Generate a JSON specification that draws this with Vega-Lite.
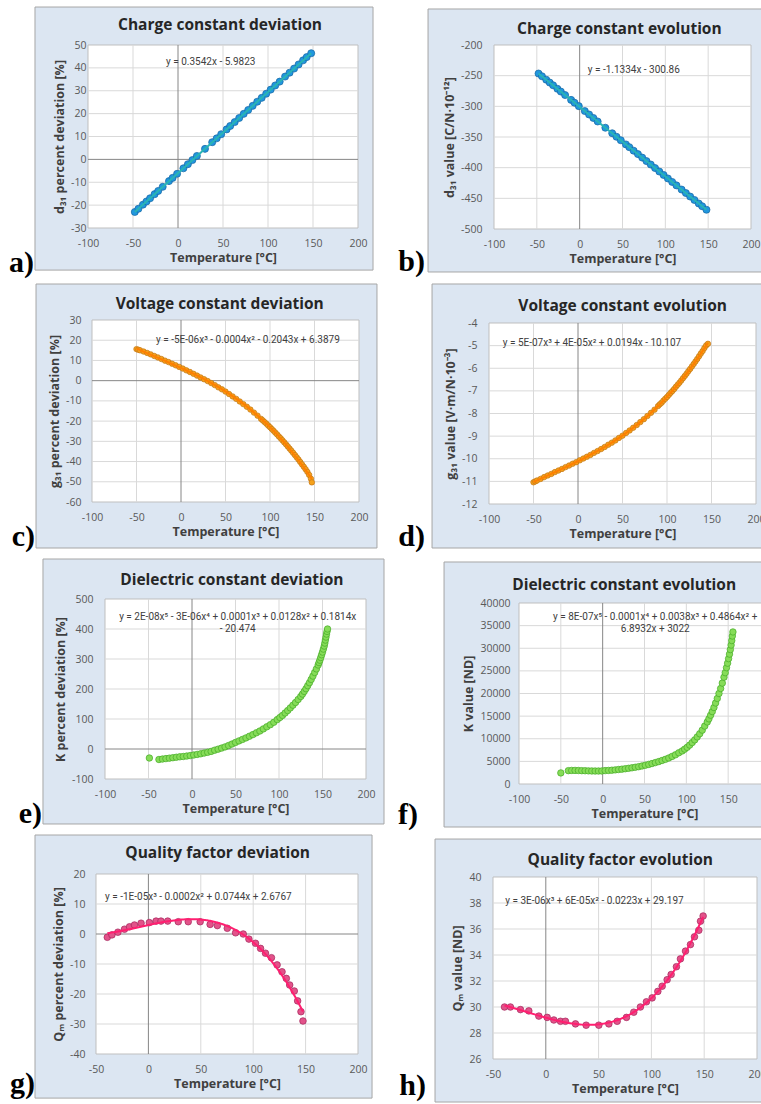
{
"$schema":"https://vega.github.io/schema/vega-lite/v6.json",
"background":"white",
"padding":{"left":3,"top":6,"right":0,"bottom":0},
"config":{
 "locale":{"number":{"decimal":".","thousands":",","grouping":[3],"currency":["$",""],"minus":"-"}},
 "view":{"stroke":null},
 "axis":{"domain":false,"ticks":false,"grid":false,"labelFont":"Open Sans","labelFontSize":10.5,"labelColor":"#595959","titleFont":"Open Sans","titleFontSize":12.5,"titleFontWeight":"bold","titleColor":"#404040","labelFlush":false,"labelOverlap":false,"format":"d"},
 "axisX":{"labelPadding":10,"titlePadding":3},
 "axisY":{"labelPadding":11,"titlePadding":4}
},
"datasets":{
 "one":[{"k":1}],
 "a":[{"t":-48,"v":-23.0},{"t":-44,"v":-21.6},{"t":-39,"v":-19.8},{"t":-35,"v":-18.4},{"t":-31,"v":-17.0},{"t":-26,"v":-15.2},{"t":-22,"v":-13.8},{"t":-17,"v":-12.0},{"t":-10,"v":-9.5},{"t":-6,"v":-8.1},{"t":-1,"v":-6.3},{"t":6,"v":-3.9},{"t":11,"v":-2.1},{"t":16,"v":-0.3},{"t":21,"v":1.5},{"t":30,"v":4.6},{"t":38,"v":7.5},{"t":43,"v":9.2},{"t":48,"v":11.0},{"t":54,"v":13.1},{"t":58,"v":14.6},{"t":63,"v":16.3},{"t":68,"v":18.1},{"t":73,"v":19.9},{"t":78,"v":21.6},{"t":83,"v":23.4},{"t":88,"v":25.2},{"t":93,"v":26.9},{"t":98,"v":28.7},{"t":103,"v":30.5},{"t":108,"v":32.3},{"t":113,"v":34.0},{"t":119,"v":36.2},{"t":124,"v":37.9},{"t":129,"v":39.7},{"t":134,"v":41.5},{"t":139,"v":43.3},{"t":143,"v":44.7},{"t":148,"v":46.4}],
 "b":[{"t":-48,"v":-246.5},{"t":-44,"v":-251.0},{"t":-39,"v":-256.6},{"t":-35,"v":-261.2},{"t":-31,"v":-265.7},{"t":-26,"v":-271.4},{"t":-22,"v":-275.9},{"t":-17,"v":-281.6},{"t":-10,"v":-289.5},{"t":-6,"v":-294.1},{"t":-1,"v":-299.7},{"t":6,"v":-307.7},{"t":11,"v":-313.3},{"t":16,"v":-319.0},{"t":21,"v":-324.7},{"t":30,"v":-334.9},{"t":38,"v":-343.9},{"t":43,"v":-349.6},{"t":48,"v":-355.3},{"t":54,"v":-362.1},{"t":58,"v":-366.6},{"t":63,"v":-372.3},{"t":68,"v":-377.9},{"t":73,"v":-383.6},{"t":78,"v":-389.3},{"t":83,"v":-394.9},{"t":88,"v":-400.6},{"t":93,"v":-406.3},{"t":98,"v":-411.9},{"t":103,"v":-417.6},{"t":108,"v":-423.3},{"t":113,"v":-428.9},{"t":119,"v":-435.7},{"t":124,"v":-441.4},{"t":129,"v":-447.1},{"t":134,"v":-452.7},{"t":139,"v":-458.4},{"t":143,"v":-462.9},{"t":148,"v":-468.6}],
 "c":[{"t":-50,"v":15.6},{"t":-48,"v":15.3},{"t":-46,"v":15.0},{"t":-42,"v":14.4},{"t":-38,"v":13.7},{"t":-34,"v":13.0},{"t":-30,"v":12.2},{"t":-26,"v":11.5},{"t":-22,"v":10.7},{"t":-18,"v":9.9},{"t":-14,"v":9.2},{"t":-10,"v":8.4},{"t":-6,"v":7.6},{"t":-2,"v":6.8},{"t":2,"v":6.0},{"t":6,"v":5.1},{"t":10,"v":4.3},{"t":14,"v":3.4},{"t":18,"v":2.5},{"t":22,"v":1.6},{"t":26,"v":0.7},{"t":30,"v":-0.2},{"t":34,"v":-1.2},{"t":38,"v":-2.2},{"t":42,"v":-3.3},{"t":46,"v":-4.3},{"t":50,"v":-5.4},{"t":54,"v":-6.6},{"t":58,"v":-7.8},{"t":62,"v":-9.0},{"t":66,"v":-10.3},{"t":70,"v":-11.6},{"t":74,"v":-12.9},{"t":78,"v":-14.3},{"t":82,"v":-15.8},{"t":86,"v":-17.3},{"t":90,"v":-18.9},{"t":92,"v":-19.7},{"t":94,"v":-20.5},{"t":96,"v":-21.3},{"t":98,"v":-22.2},{"t":100,"v":-23.0},{"t":102,"v":-23.9},{"t":104,"v":-24.8},{"t":106,"v":-25.7},{"t":108,"v":-26.6},{"t":110,"v":-27.6},{"t":112,"v":-28.5},{"t":114,"v":-29.5},{"t":116,"v":-30.5},{"t":118,"v":-31.5},{"t":120,"v":-32.5},{"t":122,"v":-33.6},{"t":124,"v":-34.6},{"t":126,"v":-35.7},{"t":128,"v":-36.8},{"t":130,"v":-37.9},{"t":132,"v":-39.0},{"t":134,"v":-40.2},{"t":136,"v":-41.4},{"t":138,"v":-42.6},{"t":140,"v":-43.8},{"t":142,"v":-45.1},{"t":144,"v":-46.6},{"t":146,"v":-48.5},{"t":147,"v":-50.3}],
 "d":[{"t":-50,"v":-11.04},{"t":-48,"v":-11.0},{"t":-46,"v":-10.96},{"t":-42,"v":-10.89},{"t":-38,"v":-10.81},{"t":-34,"v":-10.74},{"t":-30,"v":-10.67},{"t":-26,"v":-10.59},{"t":-22,"v":-10.52},{"t":-18,"v":-10.45},{"t":-14,"v":-10.37},{"t":-10,"v":-10.30},{"t":-6,"v":-10.22},{"t":-2,"v":-10.15},{"t":2,"v":-10.07},{"t":6,"v":-9.99},{"t":10,"v":-9.91},{"t":14,"v":-9.83},{"t":18,"v":-9.74},{"t":22,"v":-9.66},{"t":26,"v":-9.57},{"t":30,"v":-9.48},{"t":34,"v":-9.38},{"t":38,"v":-9.29},{"t":42,"v":-9.19},{"t":46,"v":-9.08},{"t":50,"v":-8.98},{"t":54,"v":-8.86},{"t":58,"v":-8.75},{"t":62,"v":-8.63},{"t":66,"v":-8.51},{"t":70,"v":-8.38},{"t":74,"v":-8.25},{"t":78,"v":-8.11},{"t":82,"v":-7.97},{"t":86,"v":-7.83},{"t":90,"v":-7.67},{"t":92,"v":-7.59},{"t":94,"v":-7.52},{"t":96,"v":-7.43},{"t":98,"v":-7.35},{"t":100,"v":-7.27},{"t":102,"v":-7.18},{"t":104,"v":-7.09},{"t":106,"v":-7.01},{"t":108,"v":-6.92},{"t":110,"v":-6.82},{"t":112,"v":-6.73},{"t":114,"v":-6.64},{"t":116,"v":-6.54},{"t":118,"v":-6.44},{"t":120,"v":-6.34},{"t":122,"v":-6.24},{"t":124,"v":-6.13},{"t":126,"v":-6.03},{"t":128,"v":-5.92},{"t":130,"v":-5.81},{"t":132,"v":-5.70},{"t":134,"v":-5.59},{"t":136,"v":-5.47},{"t":138,"v":-5.35},{"t":140,"v":-5.24},{"t":142,"v":-5.11},{"t":144,"v":-4.99},{"t":146,"v":-4.92}],
 "e":[{"t":-49,"v":-30},{"t":-38,"v":-35},{"t":-34,"v":-33.5},{"t":-30,"v":-32},{"t":-26,"v":-30.5},{"t":-22,"v":-29},{"t":-18,"v":-27.5},{"t":-14,"v":-26},{"t":-10,"v":-25},{"t":-6,"v":-23.5},{"t":-2,"v":-22},{"t":2,"v":-20},{"t":6,"v":-18},{"t":10,"v":-16},{"t":14,"v":-13.5},{"t":18,"v":-11},{"t":22,"v":-8},{"t":26,"v":-4},{"t":30,"v":-0.5},{"t":34,"v":3},{"t":38,"v":7},{"t":42,"v":11.5},{"t":46,"v":16.5},{"t":50,"v":22},{"t":54,"v":27},{"t":58,"v":32},{"t":62,"v":37},{"t":66,"v":42.5},{"t":70,"v":48},{"t":74,"v":54},{"t":78,"v":60},{"t":82,"v":67},{"t":86,"v":74},{"t":90,"v":81},{"t":94,"v":89},{"t":98,"v":98},{"t":101,"v":105},{"t":104,"v":112},{"t":107,"v":120},{"t":110,"v":128},{"t":113,"v":137},{"t":116,"v":146},{"t":119,"v":155},{"t":122,"v":165},{"t":125,"v":175},{"t":127,"v":183},{"t":129,"v":192},{"t":131,"v":201},{"t":133,"v":211},{"t":135,"v":221},{"t":137,"v":232},{"t":139,"v":243},{"t":141,"v":255},{"t":143,"v":267},{"t":145,"v":280},{"t":146,"v":288},{"t":147,"v":296},{"t":148,"v":305},{"t":149,"v":314},{"t":150,"v":323},{"t":151,"v":333},{"t":152,"v":343},{"t":152.7,"v":353},{"t":153.3,"v":363},{"t":154,"v":373},{"t":154.6,"v":383},{"t":155.2,"v":392},{"t":155.8,"v":400}],
 "f":[{"t":-50,"v":2450},{"t":-41,"v":2950},{"t":-37,"v":3000},{"t":-33,"v":3000},{"t":-29,"v":2980},{"t":-25,"v":2950},{"t":-21,"v":2930},{"t":-17,"v":2900},{"t":-13,"v":2880},{"t":-9,"v":2870},{"t":-5,"v":2870},{"t":-1,"v":2880},{"t":3,"v":2960},{"t":7,"v":3000},{"t":11,"v":3050},{"t":15,"v":3120},{"t":19,"v":3200},{"t":23,"v":3280},{"t":27,"v":3370},{"t":31,"v":3470},{"t":35,"v":3580},{"t":39,"v":3700},{"t":43,"v":3830},{"t":47,"v":3980},{"t":51,"v":4150},{"t":55,"v":4330},{"t":59,"v":4520},{"t":63,"v":4730},{"t":67,"v":4950},{"t":71,"v":5200},{"t":75,"v":5450},{"t":79,"v":5750},{"t":83,"v":6100},{"t":87,"v":6450},{"t":91,"v":6900},{"t":95,"v":7300},{"t":98,"v":7700},{"t":101,"v":8100},{"t":104,"v":8600},{"t":107,"v":9150},{"t":110,"v":9750},{"t":113,"v":10400},{"t":116,"v":11100},{"t":119,"v":11900},{"t":122,"v":12800},{"t":125,"v":13700},{"t":127,"v":14400},{"t":129,"v":15200},{"t":131,"v":16000},{"t":133,"v":16900},{"t":135,"v":17900},{"t":137,"v":18900},{"t":139,"v":20000},{"t":141,"v":21100},{"t":143,"v":22300},{"t":145,"v":23600},{"t":146.5,"v":24600},{"t":148,"v":25700},{"t":149.3,"v":26700},{"t":150.5,"v":27700},{"t":151.6,"v":28700},{"t":152.6,"v":29700},{"t":153.5,"v":30700},{"t":154.3,"v":31700},{"t":155,"v":32700},{"t":155.7,"v":33600}],
 "g":[{"t":-39.2,"v":-1.1},{"t":-34.8,"v":-0.3},{"t":-29.1,"v":0.6},{"t":-22.8,"v":1.6},{"t":-18,"v":2.4},{"t":-13.3,"v":3.0},{"t":-7,"v":3.6},{"t":0.9,"v":3.8},{"t":7.3,"v":4.3},{"t":12,"v":4.3},{"t":18.4,"v":4.3},{"t":28.5,"v":4.1},{"t":38,"v":4.1},{"t":49.4,"v":4.1},{"t":58.9,"v":3.2},{"t":65.8,"v":2.8},{"t":75.3,"v":1.9},{"t":83.2,"v":0.4},{"t":90.5,"v":0},{"t":95.9,"v":-1.7},{"t":102.2,"v":-3.1},{"t":107,"v":-4.8},{"t":111.7,"v":-6.4},{"t":117.4,"v":-7.9},{"t":122.8,"v":-10.3},{"t":127.5,"v":-12.6},{"t":131.6,"v":-14.8},{"t":134.8,"v":-17},{"t":139.2,"v":-19},{"t":142.4,"v":-22.3},{"t":145.6,"v":-25.9},{"t":147.5,"v":-29}],
 "h":[{"t":-39.1,"v":30.0},{"t":-33.5,"v":30.0},{"t":-24,"v":29.8},{"t":-16.1,"v":29.7},{"t":-6.6,"v":29.3},{"t":1.3,"v":29.2},{"t":7.6,"v":29.0},{"t":13.9,"v":28.9},{"t":18.6,"v":28.9},{"t":28.1,"v":28.7},{"t":38.2,"v":28.6},{"t":50.2,"v":28.6},{"t":59.7,"v":28.7},{"t":67.6,"v":28.9},{"t":76.4,"v":29.2},{"t":83.3,"v":29.6},{"t":89.6,"v":30.0},{"t":95.3,"v":30.4},{"t":100.7,"v":30.7},{"t":106.1,"v":31.2},{"t":110.2,"v":31.6},{"t":114.9,"v":32.1},{"t":118.7,"v":32.5},{"t":123.7,"v":33.1},{"t":127.5,"v":33.7},{"t":132.3,"v":34.3},{"t":137,"v":34.8},{"t":140.8,"v":35.4},{"t":144.9,"v":35.9},{"t":146.5,"v":36.6},{"t":149,"v":37.0}]
},
"columns":3,
"align":"none",
"bounds":"full",
"spacing":{"row":-2,"column":-26},
"concat":[
 {"width":1,"height":1,"data":{"name":"one"},"mark":{"type":"rect","opacity":0},"encoding":{}},
 {"width":270,"height":183,"layer":[
  {"data":{"name":"one"},"mark":{"type":"rect","fill":"#dce6f2","stroke":"#a6a6a6","strokeWidth":1},"encoding":{"x":{"datum":-158.9,"type":"quantitative","scale":{"domain":[-100,200],"nice":false,"zero":false},"axis":{"zindex":1,"tickCount":20,"values":[-100,-50,0,50,100,150,200],"title":"Temperature [°C]"}},"x2":{"datum":216.7},"y":{"datum":66.6,"type":"quantitative","scale":{"domain":[-30,50],"nice":false,"zero":false},"axis":{"zindex":1,"tickCount":20,"values":[-30,-20,-10,0,10,20,30,40,50],"title":"d₃₁ percent deviation [%]","labelPadding":2}},"y2":{"datum":-48.4}}},
  {"data":{"name":"one"},"mark":{"type":"rect","opacity":0},"encoding":{"x":{"datum":-194.4},"x2":{"datum":303.3},"y":{"datum":66.6},"y2":{"datum":-54.04}}},
  {"data":{"name":"one"},"mark":{"type":"rect","fill":"white","stroke":"#bfbfbf","strokeWidth":1},"encoding":{"x":{"datum":-100,"type":"quantitative"},"x2":{"datum":200},"y":{"datum":-30,"type":"quantitative"},"y2":{"datum":50}}},
  {"data":{"values":[{"g":-50},{"g":50},{"g":100},{"g":150}]},"mark":{"type":"rule","color":"#d9d9d9","strokeWidth":1},"encoding":{"x":{"field":"g","type":"quantitative"}}},
  {"data":{"values":[{"g":-20},{"g":-10},{"g":10},{"g":20},{"g":30},{"g":40}]},"mark":{"type":"rule","color":"#d9d9d9","strokeWidth":1},"encoding":{"y":{"field":"g","type":"quantitative"}}},
  {"data":{"values":[{"z":0}]},"mark":{"type":"rule","color":"#868686","strokeWidth":1},"encoding":{"x":{"field":"z","type":"quantitative"}}},
  {"data":{"values":[{"z":0}]},"mark":{"type":"rule","color":"#868686","strokeWidth":1},"encoding":{"y":{"field":"z","type":"quantitative"}}},
  {"data":{"name":"a"},"mark":{"type":"circle","size":50,"fill":"#2196de","stroke":"#1466a0","strokeWidth":0.7,"opacity":1},"encoding":{"x":{"field":"t","type":"quantitative"},"y":{"field":"v","type":"quantitative"}}},
  {"data":{"name":"a"},"transform":[{"regression":"v","on":"t"}],"mark":{"type":"line","color":"#2ab4b4","strokeWidth":2},"encoding":{"x":{"field":"t","type":"quantitative"},"y":{"field":"v","type":"quantitative"}}},
  {"data":{"name":"one"},"mark":{"type":"text","text":"y = 0.3542x - 5.9823","font":"Roboto","fontSize":10,"fill":"#404040","align":"left","baseline":"middle"},"encoding":{"x":{"datum":-13.3},"y":{"datum":42.6}}},
  {"data":{"name":"one"},"mark":{"type":"text","text":"Charge constant deviation","font":"Open Sans","fontSize":15.5,"fontWeight":"bold","fill":"#262626","align":"center","baseline":"alphabetic"},"encoding":{"x":{"datum":46.7},"y":{"datum":56.56}}},
  {"data":{"name":"one"},"mark":{"type":"text","text":"a)","font":"Liberation Serif","fontSize":30,"fontWeight":"bold","fill":"black","align":"right","baseline":"alphabetic"},"encoding":{"x":{"datum":-160},"y":{"datum":-49.24}}},
  {"data":{"name":"one"},"mark":{"type":"text","text":"b)","font":"Liberation Serif","fontSize":30,"fontWeight":"bold","fill":"black","align":"right","baseline":"alphabetic"},"encoding":{"x":{"datum":274.4},"y":{"datum":-48.8}}}
 ]},
 {"width":257,"height":184,"layer":[
  {"data":{"name":"one"},"mark":{"type":"rect","fill":"#dce6f2","stroke":"#a6a6a6","strokeWidth":1},"encoding":{"x":{"datum":-177.0,"type":"quantitative","scale":{"domain":[-100,200],"nice":false,"zero":false},"axis":{"zindex":1,"tickCount":20,"values":[-100,-50,0,50,100,150,200],"title":"Temperature [°C]"}},"x2":{"datum":214.0},"y":{"datum":-141.3,"type":"quantitative","scale":{"domain":[-500,-200],"nice":false,"zero":false},"axis":{"zindex":1,"tickCount":20,"values":[-500,-450,-400,-350,-300,-250,-200],"title":"d₃₁ value [C/N·10⁻¹²]","labelPadding":12}},"y2":{"datum":-570.1}}},
  {"data":{"name":"one"},"mark":{"type":"rect","opacity":0},"encoding":{"x":{"datum":-179.4},"x2":{"datum":214.0},"y":{"datum":-141.3},"y2":{"datum":-591.3}}},
  {"data":{"name":"one"},"mark":{"type":"rect","fill":"white","stroke":"#bfbfbf","strokeWidth":1},"encoding":{"x":{"datum":-100,"type":"quantitative"},"x2":{"datum":200},"y":{"datum":-500,"type":"quantitative"},"y2":{"datum":-200}}},
  {"data":{"values":[{"g":-50},{"g":50},{"g":100},{"g":150}]},"mark":{"type":"rule","color":"#d9d9d9","strokeWidth":1},"encoding":{"x":{"field":"g","type":"quantitative"}}},
  {"data":{"values":[{"g":-450},{"g":-400},{"g":-350},{"g":-300},{"g":-250}]},"mark":{"type":"rule","color":"#d9d9d9","strokeWidth":1},"encoding":{"y":{"field":"g","type":"quantitative"}}},
  {"data":{"values":[{"z":0}]},"mark":{"type":"rule","color":"#868686","strokeWidth":1},"encoding":{"x":{"field":"z","type":"quantitative"}}},
  {"data":{"name":"b"},"mark":{"type":"circle","size":50,"fill":"#2196de","stroke":"#1466a0","strokeWidth":0.7,"opacity":1},"encoding":{"x":{"field":"t","type":"quantitative"},"y":{"field":"v","type":"quantitative"}}},
  {"data":{"name":"b"},"transform":[{"regression":"v","on":"t"}],"mark":{"type":"line","color":"#2ab4b4","strokeWidth":2},"encoding":{"x":{"field":"t","type":"quantitative"},"y":{"field":"v","type":"quantitative"}}},
  {"data":{"name":"one"},"mark":{"type":"text","text":"y = -1.1334x - 300.86","font":"Roboto","fontSize":10,"fill":"#404040","align":"left","baseline":"middle"},"encoding":{"x":{"datum":9.4},"y":{"datum":-240.3}}},
  {"data":{"name":"one"},"mark":{"type":"text","text":"Charge constant evolution","font":"Open Sans","fontSize":15.5,"fontWeight":"bold","fill":"#262626","align":"center","baseline":"alphabetic"},"encoding":{"x":{"datum":46.3},"y":{"datum":-182.1}}}
 ]},
 {"width":1,"height":1,"data":{"name":"one"},"mark":{"type":"rect","opacity":0},"encoding":{}},
 {"width":267,"height":182,"layer":[
  {"data":{"name":"one"},"mark":{"type":"rect","fill":"#dce6f2","stroke":"#a6a6a6","strokeWidth":1},"encoding":{"x":{"datum":-162.9,"type":"quantitative","scale":{"domain":[-100,200],"nice":false,"zero":false},"axis":{"zindex":1,"tickCount":20,"values":[-100,-50,0,50,100,150,200],"title":"Temperature [°C]"}},"x2":{"datum":220.2},"y":{"datum":47.8,"type":"quantitative","scale":{"domain":[-60,30],"nice":false,"zero":false},"axis":{"zindex":1,"tickCount":20,"values":[-60,-50,-40,-30,-20,-10,0,10,20,30],"title":"g₃₁ percent deviation [%]","labelPadding":11}},"y2":{"datum":-82.75}}},
  {"data":{"name":"one"},"mark":{"type":"rect","opacity":0},"encoding":{"x":{"datum":-198.9},"x2":{"datum":296.6},"y":{"datum":47.8},"y2":{"datum":-88.19}}},
  {"data":{"name":"one"},"mark":{"type":"rect","fill":"white","stroke":"#bfbfbf","strokeWidth":1},"encoding":{"x":{"datum":-100,"type":"quantitative"},"x2":{"datum":200},"y":{"datum":-60,"type":"quantitative"},"y2":{"datum":30}}},
  {"data":{"values":[{"g":-50},{"g":50},{"g":100},{"g":150}]},"mark":{"type":"rule","color":"#d9d9d9","strokeWidth":1},"encoding":{"x":{"field":"g","type":"quantitative"}}},
  {"data":{"values":[{"g":-50},{"g":-40},{"g":-30},{"g":-20},{"g":-10},{"g":10},{"g":20}]},"mark":{"type":"rule","color":"#d9d9d9","strokeWidth":1},"encoding":{"y":{"field":"g","type":"quantitative"}}},
  {"data":{"values":[{"z":0}]},"mark":{"type":"rule","color":"#868686","strokeWidth":1},"encoding":{"x":{"field":"z","type":"quantitative"}}},
  {"data":{"values":[{"z":0}]},"mark":{"type":"rule","color":"#868686","strokeWidth":1},"encoding":{"y":{"field":"z","type":"quantitative"}}},
  {"data":{"name":"c"},"mark":{"type":"circle","size":30,"fill":"#f5a21b","stroke":"#c47412","strokeWidth":0.7,"opacity":1},"encoding":{"x":{"field":"t","type":"quantitative"},"y":{"field":"v","type":"quantitative"}}},
  {"data":{"name":"c"},"transform":[{"regression":"v","on":"t","method":"poly","order":3}],"mark":{"type":"line","color":"#ff7f00","strokeWidth":2},"encoding":{"x":{"field":"t","type":"quantitative"},"y":{"field":"v","type":"quantitative"}}},
  {"data":{"name":"one"},"mark":{"type":"text","text":"y = -5E-06x³ - 0.0004x² - 0.2043x + 6.3879","font":"Roboto","fontSize":10,"fill":"#404040","align":"left","baseline":"middle"},"encoding":{"x":{"datum":-28.1},"y":{"datum":20.0}}},
  {"data":{"name":"one"},"mark":{"type":"text","text":"Voltage constant deviation","font":"Open Sans","fontSize":15.5,"fontWeight":"bold","fill":"#262626","align":"center","baseline":"alphabetic"},"encoding":{"x":{"datum":43.5},"y":{"datum":35.3}}},
  {"data":{"name":"one"},"mark":{"type":"text","text":"c)","font":"Liberation Serif","fontSize":30,"fontWeight":"bold","fill":"black","align":"right","baseline":"alphabetic"},"encoding":{"x":{"datum":-164.0},"y":{"datum":-81.76}}},
  {"data":{"name":"one"},"mark":{"type":"text","text":"d)","font":"Liberation Serif","fontSize":30,"fontWeight":"bold","fill":"black","align":"right","baseline":"alphabetic"},"encoding":{"x":{"datum":274.2},"y":{"datum":-81.76}}}
 ]},
 {"width":267,"height":181,"layer":[
  {"data":{"name":"one"},"mark":{"type":"rect","fill":"#dce6f2","stroke":"#a6a6a6","strokeWidth":1},"encoding":{"x":{"datum":-164.0,"type":"quantitative","scale":{"domain":[-100,200],"nice":false,"zero":false},"axis":{"zindex":1,"tickCount":20,"values":[-100,-50,0,50,100,150,200],"title":"Temperature [°C]"}},"x2":{"datum":213.5},"y":{"datum":-2.276,"type":"quantitative","scale":{"domain":[-12,-4],"nice":false,"zero":false},"axis":{"zindex":1,"tickCount":20,"values":[-12,-11,-10,-9,-8,-7,-6,-5,-4],"title":"g₃₁ value [V·m/N·10⁻³]","labelPadding":12}},"y2":{"datum":-13.945}}},
  {"data":{"name":"one"},"mark":{"type":"rect","opacity":0},"encoding":{"x":{"datum":-166.3},"x2":{"datum":213.5},"y":{"datum":-2.276},"y2":{"datum":-14.431}}},
  {"data":{"name":"one"},"mark":{"type":"rect","fill":"white","stroke":"#bfbfbf","strokeWidth":1},"encoding":{"x":{"datum":-100,"type":"quantitative"},"x2":{"datum":200},"y":{"datum":-12,"type":"quantitative"},"y2":{"datum":-4}}},
  {"data":{"values":[{"g":-50},{"g":50},{"g":100},{"g":150}]},"mark":{"type":"rule","color":"#d9d9d9","strokeWidth":1},"encoding":{"x":{"field":"g","type":"quantitative"}}},
  {"data":{"values":[{"g":-11},{"g":-10},{"g":-9},{"g":-8},{"g":-7},{"g":-6},{"g":-5}]},"mark":{"type":"rule","color":"#d9d9d9","strokeWidth":1},"encoding":{"y":{"field":"g","type":"quantitative"}}},
  {"data":{"values":[{"z":0}]},"mark":{"type":"rule","color":"#868686","strokeWidth":1},"encoding":{"x":{"field":"z","type":"quantitative"}}},
  {"data":{"name":"d"},"mark":{"type":"circle","size":30,"fill":"#f5a21b","stroke":"#c47412","strokeWidth":0.7,"opacity":1},"encoding":{"x":{"field":"t","type":"quantitative"},"y":{"field":"v","type":"quantitative"}}},
  {"data":{"name":"d"},"transform":[{"regression":"v","on":"t","method":"poly","order":3}],"mark":{"type":"line","color":"#ff7f00","strokeWidth":2},"encoding":{"x":{"field":"t","type":"quantitative"},"y":{"field":"v","type":"quantitative"}}},
  {"data":{"name":"one"},"mark":{"type":"text","text":"y = 5E-07x³ + 4E-05x² + 0.0194x - 10.107","font":"Roboto","fontSize":10,"fill":"#404040","align":"left","baseline":"middle"},"encoding":{"x":{"datum":-84.6},"y":{"datum":-4.897}}},
  {"data":{"name":"one"},"mark":{"type":"text","text":"Voltage constant evolution","font":"Open Sans","fontSize":15.5,"fontWeight":"bold","fill":"#262626","align":"center","baseline":"alphabetic"},"encoding":{"x":{"datum":50.2},"y":{"datum":-3.47}}}
 ]},
 {"width":1,"height":1,"data":{"name":"one"},"mark":{"type":"rect","opacity":0},"encoding":{}},
 {"width":261,"height":180,"layer":[
  {"data":{"name":"one"},"mark":{"type":"rect","fill":"#dce6f2","stroke":"#a6a6a6","strokeWidth":1},"encoding":{"x":{"datum":-171.3,"type":"quantitative","scale":{"domain":[-100,200],"nice":false,"zero":false},"axis":{"zindex":1,"tickCount":20,"values":[-100,-50,0,50,100,150,200],"title":"Temperature [°C]"}},"x2":{"datum":220.7},"y":{"datum":633.3,"type":"quantitative","scale":{"domain":[-100,500],"nice":false,"zero":false},"axis":{"zindex":1,"tickCount":20,"values":[-100,0,100,200,300,400,500],"title":"K percent deviation [%]","labelPadding":12}},"y2":{"datum":-250}}},
  {"data":{"name":"one"},"mark":{"type":"rect","opacity":0},"encoding":{"x":{"datum":-216.1},"x2":{"datum":259.8},"y":{"datum":633.3},"y2":{"datum":-290}}},
  {"data":{"name":"one"},"mark":{"type":"rect","fill":"white","stroke":"#bfbfbf","strokeWidth":1},"encoding":{"x":{"datum":-100,"type":"quantitative"},"x2":{"datum":200},"y":{"datum":-100,"type":"quantitative"},"y2":{"datum":500}}},
  {"data":{"values":[{"g":-50},{"g":50},{"g":100},{"g":150}]},"mark":{"type":"rule","color":"#d9d9d9","strokeWidth":1},"encoding":{"x":{"field":"g","type":"quantitative"}}},
  {"data":{"values":[{"g":100},{"g":200},{"g":300},{"g":400}]},"mark":{"type":"rule","color":"#d9d9d9","strokeWidth":1},"encoding":{"y":{"field":"g","type":"quantitative"}}},
  {"data":{"values":[{"z":0}]},"mark":{"type":"rule","color":"#868686","strokeWidth":1},"encoding":{"x":{"field":"z","type":"quantitative"}}},
  {"data":{"values":[{"z":0}]},"mark":{"type":"rule","color":"#868686","strokeWidth":1},"encoding":{"y":{"field":"z","type":"quantitative"}}},
  {"data":{"name":"e"},"mark":{"type":"circle","size":42,"fill":"#86dc58","stroke":"#45aa26","strokeWidth":0.7,"opacity":1},"encoding":{"x":{"field":"t","type":"quantitative"},"y":{"field":"v","type":"quantitative"}}},
  {"data":{"name":"one"},"mark":{"type":"text","text":["y = 2E-08x⁵ - 3E-06x⁴ + 0.0001x³ + 0.0128x² + 0.1814x","- 20.474"],"font":"Roboto","fontSize":10,"lineHeight":12,"fill":"#404040","align":"center","baseline":"top"},"encoding":{"x":{"datum":52.5},"y":{"datum":456.7}}},
  {"data":{"name":"one"},"mark":{"type":"text","text":"Dielectric constant deviation","font":"Open Sans","fontSize":15.5,"fontWeight":"bold","fill":"#262626","align":"center","baseline":"alphabetic"},"encoding":{"x":{"datum":45.8},"y":{"datum":545.7}}},
  {"data":{"name":"one"},"mark":{"type":"text","text":"e)","font":"Liberation Serif","fontSize":30,"fontWeight":"bold","fill":"black","align":"right","baseline":"alphabetic"},"encoding":{"x":{"datum":-172.4},"y":{"datum":-246.7}}},
  {"data":{"name":"one"},"mark":{"type":"text","text":"f)","font":"Liberation Serif","fontSize":30,"fontWeight":"bold","fill":"black","align":"right","baseline":"alphabetic"},"encoding":{"x":{"datum":259.8},"y":{"datum":-250}}}
 ]},
 {"width":251,"height":181,"layer":[
  {"data":{"name":"one"},"mark":{"type":"rect","fill":"#dce6f2","stroke":"#a6a6a6","strokeWidth":1},"encoding":{"x":{"datum":-189.6,"type":"quantitative","scale":{"domain":[-100,200],"nice":false,"zero":false},"axis":{"zindex":1,"tickCount":20,"values":[-100,-50,0,50,100,150,200],"title":"Temperature [°C]"}},"x2":{"datum":219.1},"y":{"datum":49061,"type":"quantitative","scale":{"domain":[0,40000],"nice":false,"zero":false},"axis":{"zindex":1,"tickCount":20,"values":[0,5000,10000,15000,20000,25000,30000,35000,40000],"title":"K value [ND]","labelPadding":9}},"y2":{"datum":-9503}}},
  {"data":{"name":"one"},"mark":{"type":"rect","opacity":0},"encoding":{"x":{"datum":-192.0},"x2":{"datum":219.1},"y":{"datum":49061},"y2":{"datum":-12155}}},
  {"data":{"name":"one"},"mark":{"type":"rect","fill":"white","stroke":"#bfbfbf","strokeWidth":1},"encoding":{"x":{"datum":-100,"type":"quantitative"},"x2":{"datum":200},"y":{"datum":0,"type":"quantitative"},"y2":{"datum":40000}}},
  {"data":{"values":[{"g":-50},{"g":50},{"g":100},{"g":150}]},"mark":{"type":"rule","color":"#d9d9d9","strokeWidth":1},"encoding":{"x":{"field":"g","type":"quantitative"}}},
  {"data":{"values":[{"g":5000},{"g":10000},{"g":15000},{"g":20000},{"g":25000},{"g":30000},{"g":35000}]},"mark":{"type":"rule","color":"#d9d9d9","strokeWidth":1},"encoding":{"y":{"field":"g","type":"quantitative"}}},
  {"data":{"values":[{"z":0}]},"mark":{"type":"rule","color":"#868686","strokeWidth":1},"encoding":{"x":{"field":"z","type":"quantitative"}}},
  {"data":{"name":"f"},"mark":{"type":"circle","size":42,"fill":"#86dc58","stroke":"#45aa26","strokeWidth":0.7,"opacity":1},"encoding":{"x":{"field":"t","type":"quantitative"},"y":{"field":"v","type":"quantitative"}}},
  {"data":{"name":"one"},"mark":{"type":"text","text":["y = 8E-07x⁵ - 0.0001x⁴ + 0.0038x³ + 0.4864x² +","6.8932x + 3022"],"font":"Roboto","fontSize":10,"lineHeight":12,"fill":"#404040","align":"center","baseline":"top"},"encoding":{"x":{"datum":62.8},"y":{"datum":37901}}},
  {"data":{"name":"one"},"mark":{"type":"text","text":"Dielectric constant evolution","font":"Open Sans","fontSize":15.5,"fontWeight":"bold","fill":"#262626","align":"center","baseline":"alphabetic"},"encoding":{"x":{"datum":25.7},"y":{"datum":42939}}}
 ]},
 {"width":1,"height":1,"data":{"name":"one"},"mark":{"type":"rect","opacity":0},"encoding":{}},
 {"width":262,"height":180,"layer":[
  {"data":{"name":"one"},"mark":{"type":"rect","fill":"#dce6f2","stroke":"#a6a6a6","strokeWidth":1},"encoding":{"x":{"datum":-108.2,"type":"quantitative","scale":{"domain":[-50,200],"nice":false,"zero":false},"axis":{"zindex":1,"tickCount":20,"values":[-50,0,50,100,150,200],"title":"Temperature [°C]"}},"x2":{"datum":213.4},"y":{"datum":33,"type":"quantitative","scale":{"domain":[-40,20],"nice":false,"zero":false},"axis":{"zindex":1,"tickCount":20,"values":[-40,-30,-20,-10,0,10,20],"title":"Qₘ percent deviation [%]","labelPadding":11}},"y2":{"datum":-54.7}}},
  {"data":{"name":"one"},"mark":{"type":"rect","opacity":0},"encoding":{"x":{"datum":-138.7},"x2":{"datum":281.1},"y":{"datum":33},"y2":{"datum":-56.67}}},
  {"data":{"name":"one"},"mark":{"type":"rect","fill":"white","stroke":"#bfbfbf","strokeWidth":1},"encoding":{"x":{"datum":-50,"type":"quantitative"},"x2":{"datum":200},"y":{"datum":-40,"type":"quantitative"},"y2":{"datum":20}}},
  {"data":{"values":[{"g":50},{"g":100},{"g":150}]},"mark":{"type":"rule","color":"#d9d9d9","strokeWidth":1},"encoding":{"x":{"field":"g","type":"quantitative"}}},
  {"data":{"values":[{"g":-30},{"g":-20},{"g":-10},{"g":10}]},"mark":{"type":"rule","color":"#d9d9d9","strokeWidth":1},"encoding":{"y":{"field":"g","type":"quantitative"}}},
  {"data":{"values":[{"z":0}]},"mark":{"type":"rule","color":"#868686","strokeWidth":1},"encoding":{"x":{"field":"z","type":"quantitative"}}},
  {"data":{"values":[{"z":0}]},"mark":{"type":"rule","color":"#868686","strokeWidth":1},"encoding":{"y":{"field":"z","type":"quantitative"}}},
  {"data":{"name":"g"},"mark":{"type":"circle","size":44,"fill":"#e2538a","stroke":"#a4245a","strokeWidth":0.7,"opacity":1},"encoding":{"x":{"field":"t","type":"quantitative"},"y":{"field":"v","type":"quantitative"}}},
  {"data":{"name":"g"},"transform":[{"regression":"v","on":"t","method":"poly","order":3}],"mark":{"type":"line","color":"#ff1f70","strokeWidth":2},"encoding":{"x":{"field":"t","type":"quantitative"},"y":{"field":"v","type":"quantitative"}}},
  {"data":{"name":"one"},"mark":{"type":"text","text":"y = -1E-05x³ - 0.0002x² + 0.0744x + 2.6767","font":"Roboto","fontSize":10,"fill":"#404040","align":"left","baseline":"middle"},"encoding":{"x":{"datum":-41.4},"y":{"datum":12.2}}},
  {"data":{"name":"one"},"mark":{"type":"text","text":"Quality factor deviation","font":"Open Sans","fontSize":15.5,"fontWeight":"bold","fill":"#262626","align":"center","baseline":"alphabetic"},"encoding":{"x":{"datum":66.1},"y":{"datum":25.2}}},
  {"data":{"name":"one"},"mark":{"type":"text","text":"g)","font":"Liberation Serif","fontSize":30,"fontWeight":"bold","fill":"black","align":"right","baseline":"alphabetic"},"encoding":{"x":{"datum":-108.2},"y":{"datum":-53}}},
  {"data":{"name":"one"},"mark":{"type":"text","text":"h)","font":"Liberation Serif","fontSize":30,"fontWeight":"bold","fill":"black","align":"right","baseline":"alphabetic"},"encoding":{"x":{"datum":264.9},"y":{"datum":-53.67}}}
 ]},
 {"width":264,"height":182,"layer":[
  {"data":{"name":"one"},"mark":{"type":"rect","fill":"#dce6f2","stroke":"#a6a6a6","strokeWidth":1},"encoding":{"x":{"datum":-104.9,"type":"quantitative","scale":{"domain":[-50,200],"nice":false,"zero":false},"axis":{"zindex":1,"tickCount":20,"values":[-50,0,50,100,150,200],"title":"Temperature [°C]"}},"x2":{"datum":211.4},"y":{"datum":42.92,"type":"quantitative","scale":{"domain":[26,40],"nice":false,"zero":false},"axis":{"zindex":1,"tickCount":20,"values":[26,28,30,32,34,36,38,40],"title":"Qₘ value [ND]","labelPadding":12}},"y2":{"datum":22.69}}},
  {"data":{"name":"one"},"mark":{"type":"rect","opacity":0},"encoding":{"x":{"datum":-106.8},"x2":{"datum":211.4},"y":{"datum":42.92},"y2":{"datum":22.23}}},
  {"data":{"name":"one"},"mark":{"type":"rect","fill":"white","stroke":"#bfbfbf","strokeWidth":1},"encoding":{"x":{"datum":-50,"type":"quantitative"},"x2":{"datum":200},"y":{"datum":26,"type":"quantitative"},"y2":{"datum":40}}},
  {"data":{"values":[{"g":50},{"g":100},{"g":150}]},"mark":{"type":"rule","color":"#d9d9d9","strokeWidth":1},"encoding":{"x":{"field":"g","type":"quantitative"}}},
  {"data":{"values":[{"g":28},{"g":30},{"g":32},{"g":34},{"g":36},{"g":38}]},"mark":{"type":"rule","color":"#d9d9d9","strokeWidth":1},"encoding":{"y":{"field":"g","type":"quantitative"}}},
  {"data":{"values":[{"z":0}]},"mark":{"type":"rule","color":"#868686","strokeWidth":1},"encoding":{"x":{"field":"z","type":"quantitative"}}},
  {"data":{"name":"h"},"mark":{"type":"circle","size":44,"fill":"#e2538a","stroke":"#a4245a","strokeWidth":0.7,"opacity":1},"encoding":{"x":{"field":"t","type":"quantitative"},"y":{"field":"v","type":"quantitative"}}},
  {"data":{"name":"h"},"transform":[{"regression":"v","on":"t","method":"poly","order":3}],"mark":{"type":"line","color":"#ff1f70","strokeWidth":2},"encoding":{"x":{"field":"t","type":"quantitative"},"y":{"field":"v","type":"quantitative"}}},
  {"data":{"name":"one"},"mark":{"type":"text","text":"y = 3E-06x³ + 6E-05x² - 0.0223x + 29.197","font":"Roboto","fontSize":10,"fill":"#404040","align":"left","baseline":"middle"},"encoding":{"x":{"datum":-38.4},"y":{"datum":38.18}}},
  {"data":{"name":"one"},"mark":{"type":"text","text":"Quality factor evolution","font":"Open Sans","fontSize":15.5,"fontWeight":"bold","fill":"#262626","align":"center","baseline":"alphabetic"},"encoding":{"x":{"datum":70.5},"y":{"datum":40.95}}}
 ]}
]
}
